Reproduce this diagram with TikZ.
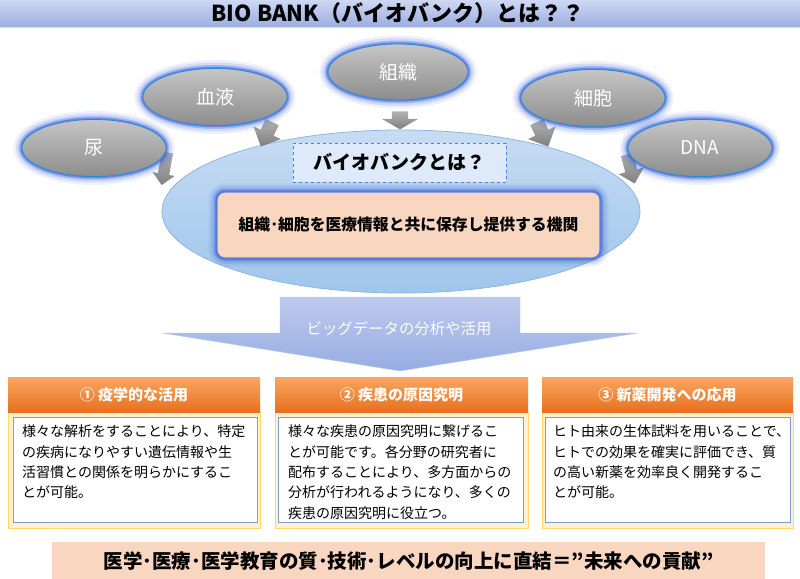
\documentclass[tikz,border=0pt]{standalone}
\usepackage{fontspec}
\setmainfont{Noto Sans CJK JP}
\usetikzlibrary{shapes.geometric,shapes.arrows}
\definecolor{TitleTop}{RGB}{206,216,243}
\definecolor{TitleBottom}{RGB}{152,172,224}
\definecolor{GrayTop}{RGB}{198,198,198}
\definecolor{GrayBottom}{RGB}{140,140,140}
\definecolor{GlowBlue}{RGB}{55,95,220}
\definecolor{EdgeBlue}{RGB}{40,140,215}
\definecolor{BankTop}{RGB}{198,220,243}
\definecolor{BankBottom}{RGB}{160,197,235}
\definecolor{BankEdge}{RGB}{140,182,228}
\definecolor{AskFill}{RGB}{222,234,249}
\definecolor{AskEdge}{RGB}{80,130,205}
\definecolor{Peach}{RGB}{249,214,192}
\definecolor{FlowTop}{RGB}{190,202,237}
\definecolor{FlowBottom}{RGB}{150,172,226}
\definecolor{OrangeTop}{RGB}{248,167,98}
\definecolor{OrangeBottom}{RGB}{232,112,30}
\definecolor{PaleYellow}{RGB}{255,242,204}
\definecolor{YellowEdge}{RGB}{255,215,100}
\definecolor{BoxEdge}{RGB}{125,155,210}
\definecolor{ArrowTop}{RGB}{178,178,178}
\definecolor{ArrowBottom}{RGB}{128,128,128}
\tikzset{
  glow/.style={preaction={draw=GlowBlue,line width=17pt,opacity=0.09},
    preaction={draw=GlowBlue,line width=12pt,opacity=0.15},
    preaction={draw=GlowBlue,line width=7pt,opacity=0.3},
    preaction={draw=GlowBlue,line width=3.5pt,opacity=0.55}},
  sample/.style={ellipse,glow,draw=EdgeBlue,line width=0.8pt,top color=GrayTop,bottom color=GrayBottom,
    minimum width=144pt,minimum height=57pt,inner sep=0pt,text=white,font=\fontsize{19}{21}\selectfont},
  feed/.style={single arrow,draw=none,top color=ArrowTop,bottom color=ArrowBottom,inner xsep=0pt,inner ysep=7pt,
    single arrow head extend=8pt,minimum height=27pt},
  header/.style={rectangle,top color=OrangeTop,bottom color=OrangeBottom,minimum height=35pt,
    text=white,font=\bfseries\fontsize{15}{17}\selectfont},
  panel/.style={rectangle,fill=PaleYellow,draw=YellowEdge,line width=1pt,minimum height=116pt},
  inner/.style={rectangle,fill=white,draw=BoxEdge,line width=1pt,minimum height=105pt},
  body/.style={anchor=north west,inner sep=0pt,align=left,font=\fontsize{14}{20.3}\selectfont}
}

\begin{document}
\begin{tikzpicture}[x=1pt,y=-1pt]
		\useasboundingbox (0,0) rectangle (800,578);

		% title bar
		\shade[top color=TitleTop,bottom color=TitleBottom] (0,0) rectangle (800,28);
		\draw[white!60!TitleBottom,line width=1pt] (0,28) -- (800,28);
		\node[font=\bfseries\fontsize{22}{24}\selectfont] (title) at (398,13) {BIO BANK（バイオバンク）とは？？};

		% bio bank ellipse
		\node[ellipse,draw=BankEdge,line width=0.8pt,top color=BankTop,bottom color=BankBottom,minimum width=478pt,minimum height=163pt] (bank) at (401,211.5) {};
		\node[rectangle,fill=AskFill,draw=AskEdge,dashed,line width=1pt,minimum width=213pt,minimum height=39pt,font=\bfseries\fontsize{19}{21}\selectfont] (ask) at (399.5,162.5) {バイオバンクとは？};
		\node[rectangle,rounded corners=8pt,glow,fill=Peach,draw=GlowBlue!80,line width=1.2pt,minimum width=383pt,minimum height=66pt,font=\bfseries\fontsize{15.8}{18}\selectfont] (define) at (408.5,225) {組織･細胞を医療情報と共に保存し提供する機関};

		% gray arrows into the bank
		\node[feed,rotate=-100,minimum height=33pt,inner ysep=5.5pt,single arrow head extend=5.5pt] (urineArrow) at (165,166) {};
		\node[feed,rotate=-115] (bloodArrow) at (268,131) {};
		\node[feed,rotate=-90,minimum height=18pt,inner ysep=8pt,single arrow head extend=10pt,single arrow tip angle=120] (tissueArrow) at (400,118) {};
		\node[feed,rotate=-65] (cellArrow) at (541,131) {};
		\node[feed,rotate=-75,minimum height=30pt,inner ysep=6pt,single arrow head extend=7pt] (dnaArrow) at (630,166) {};

		% samples
		\node[sample] (urine) at (94,148) {尿};
		\node[sample] (blood) at (215,97) {血液};
		\node[sample,minimum width=140pt,minimum height=56pt] (tissue) at (398,72) {組織};
		\node[sample] (cell) at (593,98) {細胞};
		\node[sample] (dna) at (700,148) {DNA};

		% big data arrow
		\shade[top color=FlowTop,bottom color=FlowBottom,draw=FlowTop] (280,297) -- (520,297) -- (520,333) -- (638,333) -- (400,371) -- (162,333) -- (280,333) -- cycle;
		\node[text=white,font=\fontsize{15.4}{17}\selectfont] (flow) at (399,329) {ビッグデータの分析や活用};

		% (1) epidemiology
		\node[panel,minimum width=252pt] (epiPanel) at (134,470) {};
		\node[header,minimum width=252pt] (epiHead) at (134,394.5) {① 疫学的な活用};
		\node[inner,minimum width=244pt] (epiBox) at (135,469.5) {};
		\node[body] (epiText) at (22,425) {様々な解析をすることにより、特定\\の疾病になりやすい遺伝情報や生\\活習慣との関係を明らかにするこ\\とが可能。};

		% (2) cause of disease
		\node[panel,minimum width=253pt] (causePanel) at (401.5,470) {};
		\node[header,minimum width=253pt] (causeHead) at (401.5,394.5) {② 疾患の原因究明};
		\node[inner,minimum width=245pt] (causeBox) at (400.5,469.5) {};
		\node[body] (causeText) at (288,425) {様々な疾患の原因究明に繋げるこ\\とが可能です。各分野の研究者に\\配布することにより、多方面からの\\分析が行われるようになり、多くの\\疾患の原因究明に役立つ。};

		% (3) drug development
		\node[panel,minimum width=251pt] (drugPanel) at (667.5,470) {};
		\node[header,minimum width=251pt] (drugHead) at (667.5,394.5) {③ 新薬開発への応用};
		\node[inner,minimum width=245pt] (drugBox) at (667.5,469.5) {};
		\node[body] (drugText) at (553,425) {ヒト由来の生体試料を用いることで、\\ヒトでの効果を確実に評価でき、質\\の高い新薬を効率良く開発するこ\\とが可能。};

		% conclusion banner
		\node[rectangle,fill=Peach,minimum width=713pt,minimum height=38pt,font=\bfseries\fontsize{19.5}{21}\selectfont] (future) at (408.5,561) {医学･医療･医学教育の質･技術･レベルの向上に直結＝”未来への貢献”};

	\end{tikzpicture}
\end{document}
